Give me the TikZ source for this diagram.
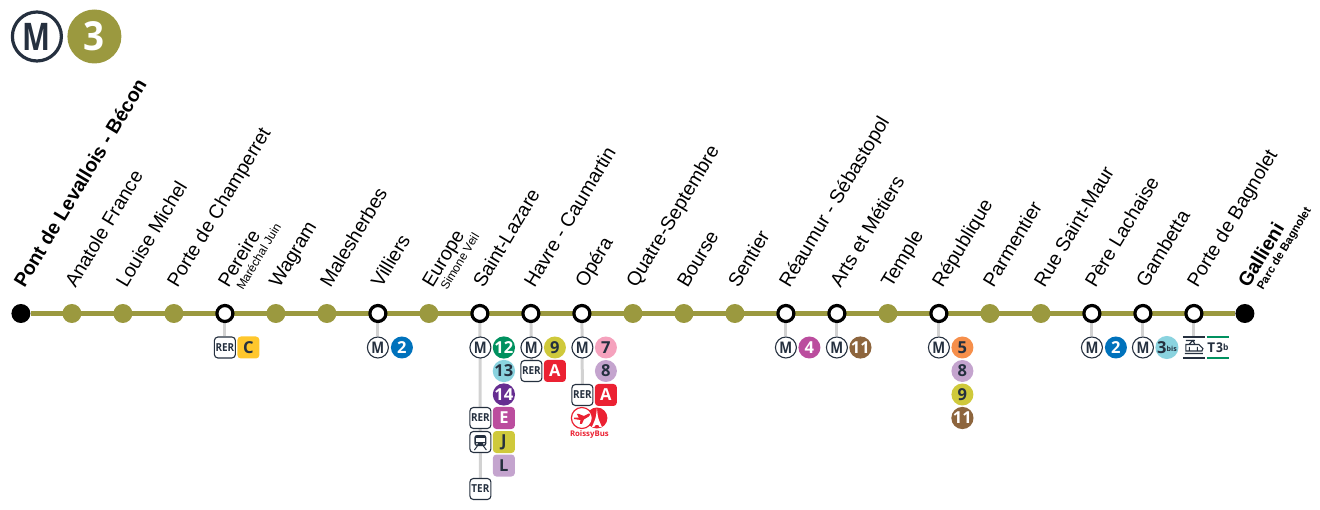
\documentclass[tikz,border=0pt]{standalone}
\usepackage{fontspec}
\usepackage{graphicx}
\setmainfont{Liberation Sans}
\newfontfamily\badgefont{Open Sans}
\usetikzlibrary{backgrounds,calc}
\definecolor{inkc}{HTML}{25303F}
\definecolor{olivec}{HTML}{9B993F}
\definecolor{grayc}{HTML}{D2D2D2}
\definecolor{bluec}{HTML}{0072BC}
\definecolor{greenc}{HTML}{00915F}
\definecolor{skyc}{HTML}{8AD3DF}
\definecolor{purplec}{HTML}{662D91}
\definecolor{mauvec}{HTML}{BB4D9E}
\definecolor{yellowc}{HTML}{CFC93B}
\definecolor{lilacc}{HTML}{C4A4CE}
\definecolor{redc}{HTML}{EB2132}
\definecolor{pinkc}{HTML}{F5A2BD}
\definecolor{brownc}{HTML}{8D653D}
\definecolor{orangec}{HTML}{F68F4B}
\definecolor{goldc}{HTML}{FFC72C}
\newcommand{\MM}{\scalebox{0.85}[1]{M}}
\newcommand{\RR}[1]{\scalebox{0.9}[1]{#1}}
\tikzset{
 x=1pt,y=-1pt,
 lbl/.style={anchor=base west,rotate=59,inner sep=0pt,font=\fontsize{19.5}{19}\selectfont,text=black},
 lblb/.style={lbl,font=\fontsize{19.6}{19}\selectfont\bfseries},
 sublbl/.style={anchor=base west,rotate=59,inner sep=0pt,font=\fontsize{12}{12}\selectfont,text=black},
 sublblb/.style={sublbl,font=\fontsize{11.5}{12}\selectfont\bfseries},
 stop/.style={circle,fill=olivec,minimum size=19pt,inner sep=0pt},
 hub/.style={circle,fill=white,draw=black,line width=3.2pt,minimum size=16pt,inner sep=0pt},
 term/.style={circle,fill=black,minimum size=19pt,inner sep=0pt},
 stub/.style={draw=grayc,line width=3pt},
 metro/.style={circle,draw=inkc,line width=1.1pt,fill=white,minimum size=21pt,inner sep=0pt,text=inkc,font=\badgefont\bfseries\fontsize{16}{16}\selectfont},
 rond/.style={circle,minimum size=22pt,inner sep=0pt,font=\badgefont\bfseries\fontsize{16.5}{16}\selectfont},
 carre/.style={rounded corners=3.5pt,minimum size=22pt,inner sep=0pt,font=\badgefont\bfseries\fontsize{16.5}{16}\selectfont},
 rer/.style={rounded corners=3.5pt,draw=inkc,line width=1.1pt,fill=white,minimum size=21pt,inner sep=0pt,text=inkc,font=\badgefont\bfseries\fontsize{11}{11}\selectfont},
}
\begin{document}
\begin{tikzpicture}
\useasboundingbox (0,0) rectangle (1320,510);
\begin{scope}[xshift=0.4pt]
% logo
\node[circle,draw=inkc,line width=3.2pt,fill=white,minimum size=49pt,inner sep=0pt,text=inkc,font=\badgefont\bfseries\fontsize{38}{38}\selectfont] (logoM) at (36.5,36.5) {\scalebox{0.78}[1]{M}};
\node[circle,fill=olivec,text=white,minimum size=54pt,inner sep=0pt,font=\badgefont\bfseries\fontsize{40}{40}\selectfont] (logoL) at (94,36.5) {\scalebox{0.92}[1]{3}};
% stations
\node[term] (s1) at (20.5,313.5) {};
\node[stop] (s2) at (71.5,313.5) {};
\node[stop] (s3) at (122.5,313.5) {};
\node[stop] (s4) at (173.5,313.5) {};
\node[hub] (s5) at (224.5,313.5) {};
\node[stop] (s6) at (275.5,313.5) {};
\node[stop] (s7) at (326.5,313.5) {};
\node[hub] (s8) at (377.5,313.5) {};
\node[stop] (s9) at (428.5,313.5) {};
\node[hub] (s10) at (479.5,313.5) {};
\node[hub] (s11) at (530.5,313.5) {};
\node[hub] (s12) at (581.5,313.5) {};
\node[stop] (s13) at (632.5,313.5) {};
\node[stop] (s14) at (683.5,313.5) {};
\node[stop] (s15) at (734.5,313.5) {};
\node[hub] (s16) at (785.5,313.5) {};
\node[hub] (s17) at (836.5,313.5) {};
\node[stop] (s18) at (887.5,313.5) {};
\node[hub] (s19) at (938.5,313.5) {};
\node[stop] (s20) at (989.5,313.5) {};
\node[stop] (s21) at (1040.5,313.5) {};
\node[hub] (s22) at (1091.5,313.5) {};
\node[hub] (s23) at (1142.5,313.5) {};
\node[hub] (s24) at (1193.5,313.5) {};
\node[term] (s25) at (1244.5,313.5) {};
% labels
\node[lblb] (l1) at (24,289) {Pont de Levallois - Bécon};
\node[lbl] (l2) at (75,289) {Anatole France};
\node[lbl] (l3) at (126,289) {Louise Michel};
\node[lbl] (l4) at (177,289) {Porte de Champerret};
\node[lbl] (l5) at (228,289) {Pereire};
\node[sublbl] (l5b) at (242.5,291) {Maréchal Juin};
\node[lbl] (l6) at (279,289) {Wagram};
\node[lbl] (l7) at (330,289) {Malesherbes};
\node[lbl] (l8) at (381,289) {Villiers};
\node[lbl] (l9) at (432,289) {Europe};
\node[sublbl] (l9b) at (446.5,291) {Simone Veil};
\node[lbl] (l10) at (483,289) {Saint-Lazare};
\node[lbl] (l11) at (534,289) {Havre - Caumartin};
\node[lbl] (l12) at (585,289) {Opéra};
\node[lbl] (l13) at (636,289) {Quatre-Septembre};
\node[lbl] (l14) at (687,289) {Bourse};
\node[lbl] (l15) at (738,289) {Sentier};
\node[lbl] (l16) at (789,289) {Réaumur - Sébastopol};
\node[lbl] (l17) at (840,289) {Arts et Métiers};
\node[lbl] (l18) at (891,289) {Temple};
\node[lbl] (l19) at (942,289) {République};
\node[lbl] (l20) at (993,289) {Parmentier};
\node[lbl] (l21) at (1044,289) {Rue Saint-Maur};
\node[lbl] (l22) at (1095,289) {Père Lachaise};
\node[lbl] (l23) at (1146,289) {Gambetta};
\node[lbl] (l24) at (1197,289) {Porte de Bagnolet};
\node[lblb] (l25) at (1248,289) {Gallieni};
\node[sublblb] (l25b) at (1262.5,291) {Parc de Bagnolet};
% badges
\node[rer] (r5) at (224.5,347.5) {\RR{RER}};
\node[carre,fill=goldc,text=inkc] (c5) at (248,347.5) {C};
\node[metro] (m8) at (377.5,347.5) {\MM};
\node[rond,fill=bluec,text=white] (n8) at (401.5,347.5) {2};
\node[metro] (m10) at (480,347.5) {\MM};
\node[rond,fill=greenc,text=white] (n10a) at (503.5,347.5) {12};
\node[rond,fill=skyc,text=inkc] (n10b) at (503.5,371) {13};
\node[rond,fill=purplec,text=white] (n10c) at (503.5,394.5) {14};
\node[rer] (r10) at (480,418) {\RR{RER}};
\node[carre,fill=mauvec,text=white] (c10a) at (503.5,418) {E};
\node[rer] (t10) at (480,442) {};
\fill[inkc,rounded corners=2.5pt] ($(t10)+(-6,-7)$) rectangle ($(t10)+(6,4)$);
\fill[white] ($(t10)+(-4.3,-4)$) rectangle ($(t10)+(4.3,-0.5)$);
\fill[white] ($(t10)+(-3.5,1.8)$) circle (0.9pt) ($(t10)+(3.5,1.8)$) circle (0.9pt);
\draw[inkc,line width=1pt] ($(t10)+(-6,8)$) -- ($(t10)+(-3,4)$) ($(t10)+(6,8)$) -- ($(t10)+(3,4)$);
\node[carre,fill=yellowc,text=inkc] (c10b) at (503.5,442) {J};
\node[carre,fill=lilacc,text=inkc] (c10c) at (503.5,465.5) {L};
\node[rer] (e10) at (480,489) {\RR{TER}};
\node[metro] (m11) at (531,347.5) {\MM};
\node[rond,fill=yellowc,text=inkc] (n11) at (554.5,347.5) {9};
\node[rer] (r11) at (531,371) {\RR{RER}};
\node[carre,fill=redc,text=white] (c11) at (554.5,371) {A};
\node[metro] (m12) at (582,347.5) {\MM};
\node[rond,fill=pinkc,text=inkc] (n12a) at (605.5,347.5) {7};
\node[rond,fill=lilacc,text=inkc] (n12b) at (605.5,371) {8};
\node[rer] (r12) at (582,395) {\RR{RER}};
\node[carre,fill=redc,text=white] (c12) at (605.5,395) {A};
\node[circle,fill=redc,minimum size=21pt,inner sep=0pt] (b12b) at (596.5,418) {};
\node[circle,fill=white,draw=redc,line width=1.2pt,minimum size=21pt,inner sep=0pt] (b12a) at (581.5,418) {};
% plane
\fill[redc] ($(b12a)+(-8,1)$) -- ($(b12a)+(-7.5,-0.5)$) -- ($(b12a)+(-3,-0.2)$) -- ($(b12a)+(-5,-4)$) -- ($(b12a)+(-3,-4)$) -- ($(b12a)+(2,-2)$) -- ($(b12a)+(7,-4.5)$) -- ($(b12a)+(8.5,-4)$) -- ($(b12a)+(7,-1.5)$) -- ($(b12a)+(2,1.5)$) -- ($(b12a)+(0,6)$) -- ($(b12a)+(-2,6)$) -- ($(b12a)+(-1.5,2)$) -- cycle;
% tower
\fill[white] ($(b12b)+(0,-10)$) -- ($(b12b)+(0.9,-2)$) -- ($(b12b)+(2,2)$) -- ($(b12b)+(5,9)$) -- ($(b12b)+(2.6,9)$) .. controls ($(b12b)+(2,6)$) and ($(b12b)+(-2,6)$) .. ($(b12b)+(-2.6,9)$) -- ($(b12b)+(-5,9)$) -- ($(b12b)+(-2,2)$) -- ($(b12b)+(-0.9,-2)$) -- cycle;
\node[inner sep=0pt,text=redc,font=\badgefont\bfseries\fontsize{7.8}{8}\selectfont] (t12) at (589,434.5) {RoissyBus};
\node[metro] (m16) at (785.5,347.5) {\MM};
\node[rond,fill=mauvec,text=white] (n16) at (809,347.5) {4};
\node[metro] (m17) at (836.5,347.5) {\MM};
\node[rond,fill=brownc,text=white] (n17) at (860,347.5) {11};
\node[metro] (m19) at (938.5,347.5) {\MM};
\node[rond,fill=orangec,text=inkc] (n19a) at (962,347.5) {5};
\node[rond,fill=lilacc,text=inkc] (n19b) at (962,371) {8};
\node[rond,fill=yellowc,text=inkc] (n19c) at (962,394.5) {9};
\node[rond,fill=brownc,text=white] (n19d) at (962,418) {11};
\node[metro] (m22) at (1091.5,347.5) {\MM};
\node[rond,fill=bluec,text=white] (n22) at (1115.5,347.5) {2};
\node[metro] (m23) at (1142.5,347.5) {\MM};
\node[rond,fill=skyc,text=inkc] (n23) at (1166.5,347.5) {\raisebox{0pt}{3}\kern0.3pt\raisebox{2pt}{\fontsize{7}{6}\selectfont bis}};
% tram icon
\coordinate (tram) at (1193.5,347.5);
\coordinate (tb) at (1217.5,347.5);
\fill[white] ($(tram)+(-11,-11)$) rectangle ($(tram)+(11,11)$);
\draw[inkc,line width=1.8pt] ($(tram)+(-11,-10.5)$) -- ($(tram)+(11,-10.5)$) ($(tram)+(-11,10.5)$) -- ($(tram)+(11,10.5)$);
\draw[inkc,line width=1.1pt] ($(tram)+(-8,3.5)$) -- ($(tram)+(8,3.5)$) -- ($(tram)+(9,1)$) -- ($(tram)+(5,-3)$) -- ($(tram)+(-8,-3)$) -- cycle ($(tram)+(-5,-3)$) -- ($(tram)+(-1,-7)$) -- ($(tram)+(1,-3)$) ($(tram)+(-8,-7)$) -- ($(tram)+(1,-7)$) ($(tram)+(-9,6)$) -- ($(tram)+(9,6)$);
\fill[inkc] ($(tram)+(-5,-0.5)$) rectangle ($(tram)+(-4,3.5)$) ($(tram)+(3,-0.5)$) rectangle ($(tram)+(4,3.5)$);
\draw[greenc,line width=2.2pt] ($(tb)+(-11,-10.5)$) -- ($(tb)+(11,-10.5)$) ($(tb)+(-11,10.5)$) -- ($(tb)+(11,10.5)$);
\node[inner sep=0pt,text=inkc,font=\badgefont\bfseries\fontsize{13.5}{13}\selectfont] (tlabel) at (tb) {T\kern1pt\scalebox{0.9}[1]{3}\raisebox{2pt}{\fontsize{8.5}{8}\selectfont b}};
% line and stubs
\begin{pgfonlayer}{background}
\draw[olivec,line width=5.5pt] (s1) -- (s25);
\draw[stub] (s5) -- (r5);
\draw[stub] (s8) -- (m8);
\draw[stub] (s10) -- (e10);
\draw[stub] (s11) -- (r11);
\draw[stub] (s12) -- (r12);
\draw[stub] (s16) -- (m16);
\draw[stub] (s17) -- (m17);
\draw[stub] (s19) -- (m19);
\draw[stub] (s22) -- (m22);
\draw[stub] (s23) -- (m23);
\draw[stub] (s24) -- (tram);
\end{pgfonlayer}
\end{scope}
\end{tikzpicture}
\end{document}
